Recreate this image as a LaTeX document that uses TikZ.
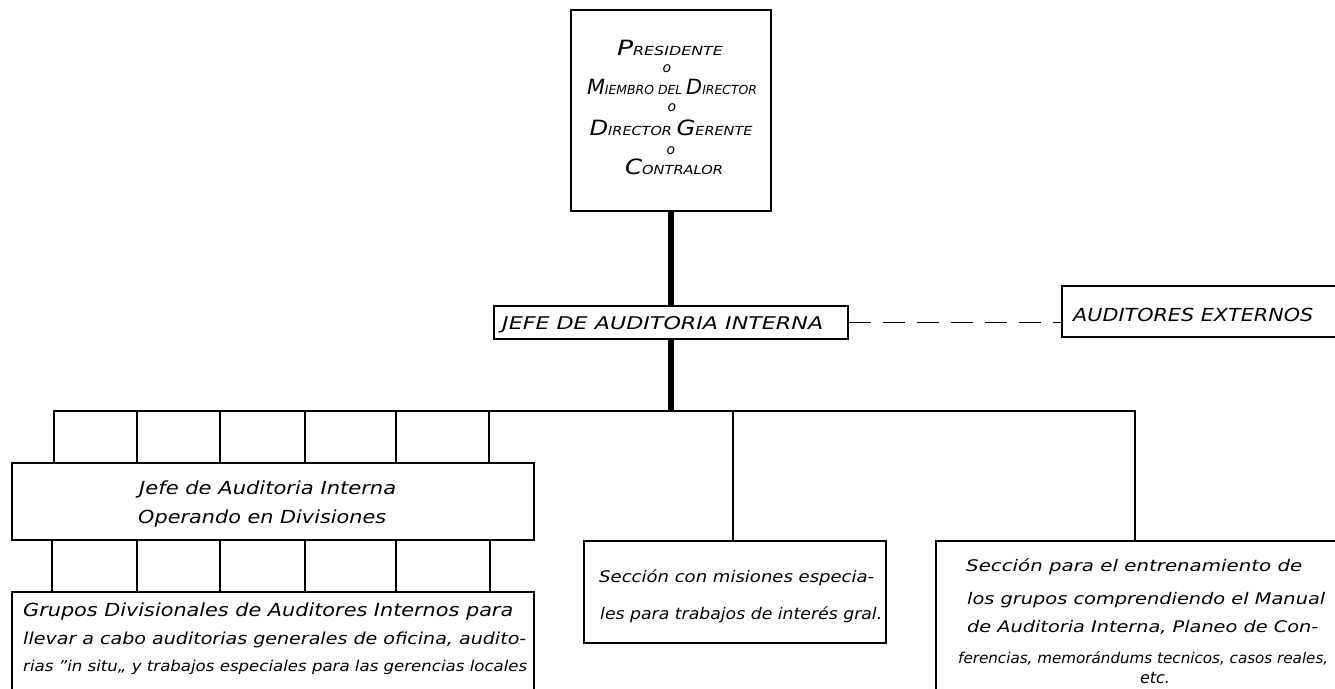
\documentclass[tikz,border=0pt]{standalone}
\usepackage{fontspec}
\setmainfont{DejaVu Sans}
\usepackage{graphicx}
\newcommand\hfit[2]{\resizebox{#1}{\height}{#2}}
\newcommand\bgcap[1]{{\fontsize{21}{21}\selectfont #1}}
\newcommand\fs[1]{\fontsize{#1}{#1}\selectfont}
\begin{document}
\begin{tikzpicture}[x=1pt,y=-1pt,
  box/.style={draw, rectangle, line width=1.9pt, inner sep=0pt, anchor=north west},
  txt/.style={inner sep=0pt},
  trunk/.style={line width=6.5pt},
  link/.style={line width=1.7pt, line join=miter},
  dashlink/.style={line width=1.7pt, dash pattern=on 22pt off 12pt}]
\useasboundingbox (0,0) rectangle (1335,688);
\fill[white] (0,0) rectangle (1335,688);
\clip (0,0) rectangle (1335,688);

% boxes
\node[box, minimum width=200pt, minimum height=201pt] (pres) at (570,9) {};
\node[box, minimum width=354pt, minimum height=33pt] (jefe) at (493,305) {};
\node[box, minimum width=290pt, minimum height=51pt] (ext) at (1061,285) {};
\node[box, minimum width=522pt, minimum height=77pt] (opdiv) at (11,462) {};
\node[box, minimum width=522pt, minimum height=110pt] (grupos) at (11,591) {};
\node[box, minimum width=302pt, minimum height=102pt] (mid) at (583,540) {};
\node[box, minimum width=420pt, minimum height=160pt] (right) at (935,540) {};

% connectors
\coordinate (busL) at (54,411);
\coordinate (busM) at (733,411);
\coordinate (busR) at (1135,411);
\draw[trunk] (pres.south) -- (jefe.north);
\draw[trunk] (jefe.south) -- (jefe.south |- busL);
\draw[link] (busL |- opdiv.north) -- (busL) -- (busR) -- (busR |- right.north);
\draw[link] (busM) -- (busM |- mid.north);
\foreach \x [count=\i] in {137,220,305,396,489} {
  \coordinate (up\i) at (\x,411);
  \draw[link] (up\i) -- (up\i |- opdiv.north);
}
\foreach \x [count=\i] in {52,137,220,305,396,490} {
  \coordinate (lo\i) at (\x,560);
  \draw[link] (lo\i |- opdiv.south) -- (lo\i |- grupos.north);
}
\draw[dashlink] (jefe.east) -- (jefe.east -| ext.west);

% top box text
\begin{scope}[every node/.style={txt, font=\itshape\fs{12.5}}]
\node[anchor=base] (t1) at (670,55) {\hfit{106pt}{\bgcap{P}RESIDENTE}};
\node[font=\itshape\fs{14}] (o1) at (667,69) {o};
\node[anchor=base] (t2) at (672,94) {\hfit{170pt}{\bgcap{M}IEMBRO DEL \bgcap{D}IRECTOR}};
\node[font=\itshape\fs{14}] (o2) at (672,108) {o};
\node[anchor=base] (t3) at (671,135) {\hfit{163pt}{\bgcap{D}IRECTOR \bgcap{G}ERENTE}};
\node[font=\itshape\fs{14}] (o3) at (671,151) {o};
\node[anchor=base] (t4) at (674,174) {\hfit{98pt}{\bgcap{C}ONTRALOR}};
\end{scope}

% other texts
\node[txt, anchor=base west, font=\itshape\fs{17.5}] (tj) at (502,329) {\hfit{321pt}{JEFE DE AUDITORIA INTERNA}};
\node[txt, anchor=base west, font=\itshape\fs{18}] (te) at (1073,321) {\hfit{240pt}{AUDITORES EXTERNOS}};

\node[txt, anchor=base west, font=\itshape\fs{18}] (od1) at (139,494) {\hfit{257pt}{Jefe de Auditoria Interna}};
\node[txt, anchor=base west, font=\itshape\fs{18}] (od2) at (138,523) {\hfit{248pt}{Operando en Divisiones}};

\node[txt, anchor=base west, font=\itshape\fs{18}] (g1) at (23,616) {\hfit{490pt}{Grupos Divisionales de Auditores Internos para}};
\node[txt, anchor=base west, font=\itshape\fs{16.5}] (g2) at (23,644) {\hfit{503pt}{llevar a cabo auditorias generales de oficina, audito-}};
\node[txt, anchor=base west, font=\itshape\fs{15}] (g3) at (23,671) {\hfit{504pt}{rias "in situ„ y trabajos especiales para las gerencias locales}};

\node[txt, anchor=base west, font=\itshape\fs{16}] (m1) at (599,582) {\hfit{275pt}{Sección con misiones especia-}};
\node[txt, anchor=base west, font=\itshape\fs{16}] (m2) at (600,619) {\hfit{282pt}{les para trabajos de interés gral.}};

\node[txt, anchor=base west, font=\itshape\fs{16}] (r1) at (966,571) {\hfit{336pt}{Sección para el entrenamiento de}};
\node[txt, anchor=base west, font=\itshape\fs{16}] (r2) at (967,604) {\hfit{358pt}{los grupos comprendiendo el Manual}};
\node[txt, anchor=base west, font=\itshape\fs{16}] (r3) at (967,632) {\hfit{351pt}{de Auditoria Interna, Planeo de Con-}};
\node[txt, anchor=base west, font=\itshape\fs{15}] (r4) at (958,663) {\hfit{370pt}{ferencias, memorándums tecnicos, casos reales,}};
\node[txt, anchor=base, font=\itshape\fs{16}] (r5) at (1155,683) {etc.};
\end{tikzpicture}
\end{document}
